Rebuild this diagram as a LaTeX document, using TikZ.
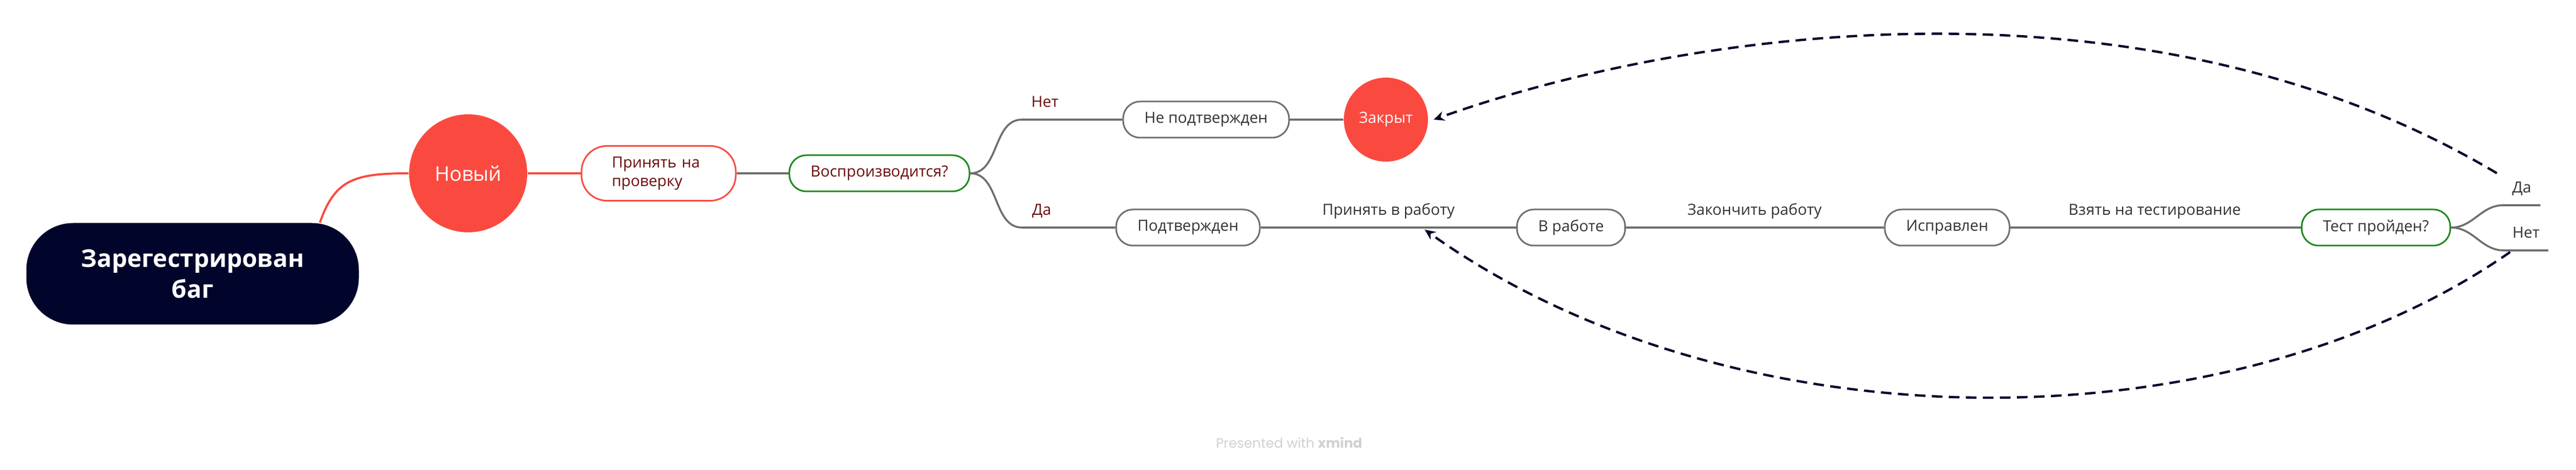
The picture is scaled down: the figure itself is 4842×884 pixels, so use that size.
\documentclass[tikz,border=0pt]{standalone}
\usepackage{fontspec}
\setmainfont{Open Sans}
\newfontfamily\wmfont{Poppins}
\usetikzlibrary{arrows.meta}

\definecolor{bugred}{HTML}{FA4A40}
\definecolor{darkred}{HTML}{6B0A0A}
\definecolor{qgreen}{HTML}{1C8A1C}
\definecolor{linegray}{HTML}{6E6E6E}
\definecolor{textgray}{HTML}{333333}
\definecolor{navy}{HTML}{02052B}
\definecolor{wmgray}{HTML}{D0D0D0}

\tikzset{
  topic/.style={draw=linegray, line width=0.75pt, fill=white, rounded corners=8pt,
    minimum height=17pt, inner xsep=10pt, text=textgray,
    font=\fontsize{7.2pt}{8.6pt}\selectfont},
  question/.style={topic, draw=qgreen, text=darkred},
  statecircle/.style={circle, fill=bugred, text=white, inner sep=0pt},
  linelabel/.style={inner xsep=0pt, inner ysep=0pt, text depth=5.75pt, anchor=south,
    text=textgray, font=\fontsize{7.2pt}{8.6pt}\selectfont},
  branch/.style={draw=linegray, line width=0.9pt},
  backarrow/.style={draw=navy, line width=1.1pt, dash pattern=on 5pt off 3pt,
    -{Stealth[length=5pt,width=4.5pt]}}
}

\begin{document}
\begin{tikzpicture}[x=0.25pt, y=-0.25pt]
    \useasboundingbox (0,0) rectangle (4842,884);

    % root and first steps
    \node[fill=navy, text=white, rounded corners=22pt, minimum width=156.25pt,
      minimum height=47.75pt, align=center,
      font=\bfseries\fontsize{11.5pt}{14.5pt}\selectfont] (bug) at (362,515) {Зарегестрирован\\баг};
    \node[statecircle, minimum size=55.5pt, font=\fontsize{9.5pt}{11pt}\selectfont] (new) at (880,326) {Новый};
    \node[topic, draw=bugred, text=darkred, align=left, text width=44pt, inner xsep=14.25pt,
      minimum height=25.75pt, rounded corners=12pt,
      font=\fontsize{7.2pt}{8.75pt}\selectfont] (review) at (1238,326) {Принять на\\проверку};
    \node[question] (repro) at (1653,326) {Воспроизводится?};

    % not reproduced
    \node[linelabel, text=darkred, minimum width=21.25pt] (no1) at (1964,225) {Нет};
    \node[topic] (notconf) at (2267,225) {Не подтвержден};
    \node[statecircle, minimum size=39.5pt, font=\fontsize{7.2pt}{8.6pt}\selectfont] (closed) at (2605,225) {Закрыт};

    % reproduced
    \node[linelabel, text=darkred, minimum width=18pt] (yes1) at (1958,428) {Да};
    \node[topic] (conf) at (2233,428) {Подтвержден};
    \node[linelabel, minimum width=69.25pt] (accept) at (2610,428) {Принять в работу};
    \node[topic] (inwork) at (2953,428) {В работе};
    \node[linelabel, minimum width=71.75pt] (finish) at (3298,428) {Закончить работу};
    \node[topic] (fixed) at (3660,428) {Исправлен};
    \node[linelabel, minimum width=87.75pt] (totest) at (4050,428) {Взять на тестирование};
    \node[question, text=textgray] (test) at (4466,428) {Тест пройден?};
    \node[linelabel, minimum width=17pt] (yes2) at (4740,386) {Да};
    \node[linelabel, minimum width=20.5pt] (no2) at (4748,471) {Нет};

    \node[font=\wmfont\fontsize{6.3pt}{8pt}\selectfont, text=wmgray, anchor=base] (credit) at (2423,843) {Presented with \textbf{xmind}};

    % connectors
    \draw[draw=bugred, line width=1pt] ([xshift=-18.5pt]bug.north east)
      .. controls +(7pt,20pt) and +(-26pt,0pt) .. (new.west);
    \draw[draw=bugred, line width=1pt] (new.east) -- (review.west);
    \draw[branch] (review.east) -- (repro.west);
    \draw[branch] (repro.east) to[out=0,in=180] (no1.south west) -- (no1.south east) -- (notconf.west);
    \draw[branch] (notconf.east) -- (closed.west);
    \draw[branch] (repro.east) to[out=0,in=180] (yes1.south west) -- (yes1.south east) -- (conf.west);
    \draw[branch] (conf.east) -- (accept.south west) -- (accept.south east) -- (inwork.west);
    \draw[branch] (inwork.east) -- (finish.south west) -- (finish.south east) -- (fixed.west);
    \draw[branch] (fixed.east) -- (totest.south west) -- (totest.south east) -- (test.west);
    \draw[branch] (test.east) to[out=0,in=180] (yes2.south west) -- (yes2.south east);
    \draw[branch] (test.east) to[out=0,in=180] (no2.south west) -- (no2.south east);

    % back arrows
    \draw[backarrow] ([xshift=-3pt,yshift=3.75pt]yes2.north west)
      .. controls (4058,-54) and (3211,41) .. ([xshift=2.5pt]closed.east);
    \draw[backarrow] ([xshift=3pt,yshift=-0.75pt]no2.south west)
      .. controls (4188,844) and (3257,846) .. ([xshift=17pt,yshift=-1pt]accept.south);
\end{tikzpicture}
\end{document}
